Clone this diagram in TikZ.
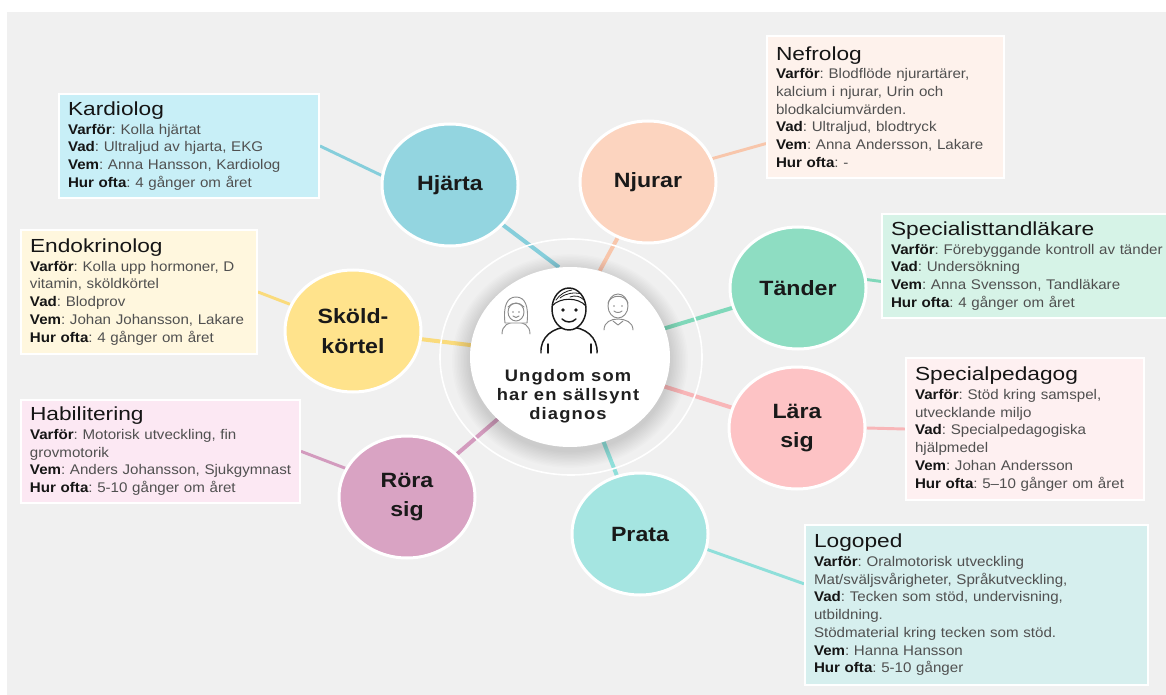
\documentclass[tikz,border=0pt]{standalone}
\usepackage{fontspec}
\setmainfont[FakeStretch=1.08]{Liberation Sans}
\newfontfamily\titlef[FakeStretch=1.2]{Liberation Sans}
\newfontfamily\circf[FakeStretch=1.12]{Liberation Sans}
\newfontfamily\ctrf[FakeStretch=1.1,LetterSpace=7]{Liberation Sans}
\usetikzlibrary{shapes.geometric}
\pgfdeclarelayer{bg}
\pgfsetlayers{bg,main}
\definecolor{bgg}{HTML}{F0F0F0}
\definecolor{hjF}{HTML}{93D5E0}\definecolor{hjL}{HTML}{86CEDB}
\definecolor{njF}{HTML}{FCD4BF}\definecolor{njL}{HTML}{F8C6AB}
\definecolor{taF}{HTML}{8EDDC2}\definecolor{taL}{HTML}{80D8BA}
\definecolor{skF}{HTML}{FFE38C}\definecolor{skL}{HTML}{FADB7C}
\definecolor{laF}{HTML}{FDC3C5}\definecolor{laL}{HTML}{F8B6B8}
\definecolor{roF}{HTML}{D9A3C3}\definecolor{roL}{HTML}{D39BBE}
\definecolor{prF}{HTML}{A5E5E1}\definecolor{prL}{HTML}{8FDFDA}
\definecolor{kardF}{HTML}{C8EFF7}
\definecolor{endoF}{HTML}{FFF7DE}
\definecolor{habF}{HTML}{FCE8F3}
\definecolor{nefF}{HTML}{FEF2EC}
\definecolor{stF}{HTML}{D6F3E7}
\definecolor{spF}{HTML}{FEF0F1}
\definecolor{logoF}{HTML}{D6EFEE}
\definecolor{bodyc}{HTML}{505050}
\definecolor{labc}{HTML}{151515}
\definecolor{iconc}{HTML}{1A1A1A}
\definecolor{icong}{HTML}{8C8C8C}
\newcommand\lb[1]{\textcolor{labc}{\bfseries #1}}
\newcommand\ttl[1]{\textcolor{labc}{\titlef\fontsize{14.2}{16}\selectfont #1}}
\tikzset{
  sat/.style={ellipse, draw=white, line width=2.25pt, minimum width=102pt, minimum height=91.5pt,
    inner sep=0pt, align=center, text=black!90, font=\circf\bfseries\fontsize{15.5}{22}\selectfont},
  info/.style={anchor=north west, draw=white, line width=1.5pt, inner xsep=6.75pt, inner ysep=0pt,
    align=left, text=bodyc, font=\frenchspacing\fontsize{10.5}{13.3}\selectfont},
  ringstyle/.style={ellipse, draw=white, line width=1.2pt, minimum width=196.5pt, minimum height=177pt, inner sep=0pt},
  ctrstyle/.style={ellipse, fill=white, minimum width=150pt, minimum height=135pt, inner sep=0pt},
  cline/.style={line width=3pt},
  bline/.style={line width=2.2pt},
  bigicon/.style={draw=iconc, line width=1.1pt, line cap=round, line join=round},
  smallicon/.style={draw=icong, line width=0.7pt, line cap=round, line join=round}
}
\begin{document}
\frenchspacing
\begin{tikzpicture}[x=0.75pt,y=-0.75pt]
\useasboundingbox (0,0) rectangle (1166,695);

% ring and shadow
\node[ringstyle] (ring) at (571,357) {};
\foreach \i in {1,...,12}
  \fill[black,opacity=0.012] (570,361) ellipse [x radius={100+1.5*\i}, y radius={90+1.4*\i}];
\node[ctrstyle] (ctr) at (570,357) {};

% satellites
\node[sat, fill=hjF] (hj) at (450,185) {Hjärta};
\node[sat, fill=njF] (nj) at (648,182) {Njurar};
\node[sat, fill=taF] (ta) at (798,288) {Tänder};
\node[sat, fill=skF] (sk) at (353,331) {Sköld-\\körtel};
\node[sat, fill=laF] (la) at (797,428) {Lära\\sig};
\node[sat, fill=roF] (ro) at (407,497) {Röra\\sig};
\node[sat, fill=prF] (pr) at (640,534) {Prata};

% info boxes
\node[info, fill=kardF, text width=181.5pt, minimum height=78pt] (kard) at (58,93) {%
\ttl{Kardiolog}\\[0.6pt]
\mbox{\lb{Varför}: Kolla hjärtat}\\
\mbox{\lb{Vad}: Ultraljud av hjarta, EKG}\\
\mbox{\lb{Vem}: Anna Hansson, Kardiolog}\\
\mbox{\lb{Hur ofta}: 4 gånger om året}};

\node[info, fill=endoF, text width=163.5pt, minimum height=93pt] (endo) at (20,229) {%
\ttl{Endokrinolog}\\[0.6pt]
\mbox{\lb{Varför}: Kolla upp hormoner, D}\\
\mbox{vitamin, sköldkörtel}\\
\mbox{\lb{Vad}: Blodprov}\\
\mbox{\lb{Vem}: Johan Johansson, Lakare}\\
\mbox{\lb{Hur ofta}: 4 gånger om året}};

\node[info, fill=habF, text width=195.75pt, minimum height=77pt] (hab) at (20,399) {%
\ttl{Habilitering}\\[0.6pt]
\mbox{\lb{Varför}: Motorisk utveckling, fin}\\
\mbox{grovmotorik}\\
\mbox{\lb{Vem}: Anders Johansson, Sjukgymnast}\\
\mbox{\lb{Hur ofta}: 5-10 gånger om året}};

\node[info, fill=nefF, text width=164.25pt, minimum height=106.5pt] (nef) at (766,35) {%
\ttl{Nefrolog}\\[0.6pt]
\mbox{\lb{Varför}: Blodflöde njurartärer,}\\
\mbox{kalcium i njurar, Urin och}\\
\mbox{blodkalciumvärden.}\\
\mbox{\lb{Vad}: Ultraljud, blodtryck}\\
\mbox{\lb{Vem}: Anna Andersson, Lakare}\\
\mbox{\lb{Hur ofta}: -}};

\node[info, fill=stF, text width=205.5pt, minimum height=78pt] (st) at (881,213) {%
\ttl{Specialisttandläkare}\\[0.6pt]
\mbox{\lb{Varför}: Förebyggande kontroll av tänder}\\
\mbox{\lb{Vad}: Undersökning}\\
\mbox{\lb{Vem}: Anna Svensson, Tandläkare}\\
\mbox{\lb{Hur ofta}: 4 gånger om året}};

\node[info, fill=spF, text width=165pt, minimum height=106.5pt] (sped) at (905,357) {%
\ttl{Specialpedagog}\\[0.6pt]
\mbox{\lb{Varför}: Stöd kring samspel,}\\
\mbox{utvecklande miljo}\\
\mbox{\lb{Vad}: Specialpedagogiska}\\
\mbox{hjälpmedel}\\
\mbox{\lb{Vem}: Johan Andersson}\\
\mbox{\lb{Hur ofta}: 5–10 gånger om året}};

\node[info, fill=logoF, text width=243.75pt, minimum height=120pt] (logo) at (804,524) {%
\ttl{Logoped}\\[0.6pt]
\mbox{\lb{Varför}: Oralmotorisk utveckling}\\
\mbox{Mat/sväljsvårigheter, Språkutveckling,}\\
\mbox{\lb{Vad}: Tecken som stöd, undervisning,}\\
\mbox{utbildning.}\\
\mbox{Stödmaterial kring tecken som stöd.}\\
\mbox{\lb{Vem}: Hanna Hansson}\\
\mbox{\lb{Hur ofta}: 5-10 gånger}};

% centre text
\node[align=center, text=black!88, font=\ctrf\bfseries\fontsize{12.5}{14.25}\selectfont] (ctrtxt) at (568,396)
  {Ungdom som\\har en sällsynt\\diagnos};

% icons: main person
\draw[bigicon] (541,353) .. controls (540,337) and (553,327) .. (569,327) .. controls (585,327) and (598,337) .. (597,353);
\draw[bigicon] (548,344) -- (548,353);
\draw[bigicon] (591,344) -- (591,353);
\filldraw[bigicon, fill=white] (569,309) ellipse [x radius=17, y radius=21];
\begin{scope}
  \clip (569,309) ellipse [x radius=17, y radius=21];
  \draw[bigicon, line width=0.8pt] (552,306) .. controls (560,297) and (578,297) .. (586,306);
  \draw[bigicon, line width=0.6pt] (556,300) .. controls (560,294) and (566,291) .. (572,290);
  \draw[bigicon, line width=0.6pt] (560,298) .. controls (566,293) and (574,292) .. (582,294);
  \draw[bigicon, line width=0.6pt] (570,297) .. controls (575,295) and (580,296) .. (584,300);
\end{scope}
\fill[iconc] (563,310) circle [radius=1.8];
\fill[iconc] (576,310) circle [radius=1.8];
\draw[bigicon] (562,319) .. controls (566,323) and (572,323) .. (576,319);

% girl
\draw[smallicon] (502,334) .. controls (502,325) and (509,322) .. (516,322) .. controls (523,322) and (530,325) .. (530,334);
\filldraw[smallicon, fill=white] (505,323) .. controls (503,306) and (507,297) .. (516,297) .. controls (525,297) and (529,306) .. (527,323) -- cycle;
\filldraw[smallicon, fill=white] (516,312) ellipse [x radius=8, y radius=9];
\draw[smallicon] (508,307) .. controls (512,302) and (520,302) .. (524,307);
\fill[icong] (513,312) circle [radius=0.9];
\fill[icong] (519,312) circle [radius=0.9];
\draw[smallicon] (513,316) .. controls (515,318) and (517,318) .. (519,316);

% boy
\draw[smallicon] (604,330) .. controls (604,322) and (611,319) .. (618,319) .. controls (625,319) and (633,322) .. (633,330);
\draw[smallicon] (613,321) -- (618,325) -- (623,321);
\filldraw[smallicon, fill=white] (618,306) ellipse [x radius=10, y radius=12];
\draw[smallicon] (608,303) .. controls (611,294) and (625,294) .. (628,303);
\fill[icong] (614,306) circle [radius=0.9];
\fill[icong] (622,306) circle [radius=0.9];
\draw[smallicon] (614,311) .. controls (616,313) and (620,313) .. (622,311);

% background layer: page, connectors
\begin{pgfonlayer}{bg}
  \fill[white] (0,0) rectangle (1166,695);
  \fill[bgg] (7,12) rectangle (1166,695);
  \draw[cline, hjL] (hj.center) -- (ctr.97);
  \draw[cline, njL] (nj.center) -- (ctr.71);
  \draw[cline, taL] (ta.center) -- (ctr.center);
  \draw[cline, skL] (sk.center) -- (ctr.center);
  \draw[cline, laL] (la.center) -- (ctr.center);
  \draw[cline, roL] (ro.center) -- (ctr.center);
  \draw[cline, prL] (pr.center) -- (ctr.center);
  \draw[bline, hjL] (kard.east) -- (hj.172);
  \draw[bline, skL] (endo.east) -- (sk.157);
  \draw[bline, roL] (hab.east) -- (ro.155);
  \draw[bline, njL] (nef.197) -- (nj.20);
  \draw[bline, taL] (st.186) -- (ta.7);
  \draw[bline, laL] (sped.west) -- (la.0);
  \draw[bline, prL] (logo.173) -- (pr.-13);
\end{pgfonlayer}
\end{tikzpicture}
\end{document}
